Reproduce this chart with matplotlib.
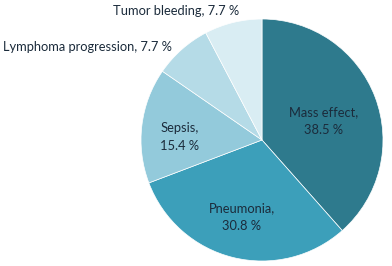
import matplotlib.pyplot as plt

categories = ["Mass effect", "Pneumonia", "Sepsis", "Lymphoma progression", "Tumor bleeding"]
shares = [38.5, 30.8, 15.4, 7.7, 7.7]

colors = ["#2e7a8d", "#3c9fba", "#93cadb", "#b5dbe7", "#d9edf3"]
text_color = "#1b2b3b"

plt.rcParams['font.family'] = ['Lato', 'DejaVu Sans']

fig = plt.figure(figsize=(3.92, 2.66), dpi=100)
ax = fig.add_axes([0, 0, 1, 1])

# pie centre / radius in pixel units (y measured from the bottom)
cx, cy, r = 262, 126, 121
ax.pie(shares, colors=colors, startangle=90, counterclock=False,
       center=(cx, cy), radius=r, frame=True,
       wedgeprops=dict(edgecolor='white', linewidth=0.5))
ax.set_xlim(0, 392)
ax.set_ylim(0, 266)
ax.set_aspect('equal')
ax.axis('off')

# label placement (pixels), inside labels split on two lines
label_pos = [(324, 145, 'center', True), (242, 49, 'center', True),
             (180, 129, 'center', True), (3, 219, 'left', False),
             (113, 255, 'left', False)]
for name, val, (x, y, ha, split) in zip(categories, shares, label_pos):
    sep = ",\n" if split else ", "
    ax.text(x, y, f"{name}{sep}{val} %", ha=ha, va='center',
            fontsize=9.3, color=text_color, linespacing=1.5)

fig.savefig("out.png", dpi=100)
